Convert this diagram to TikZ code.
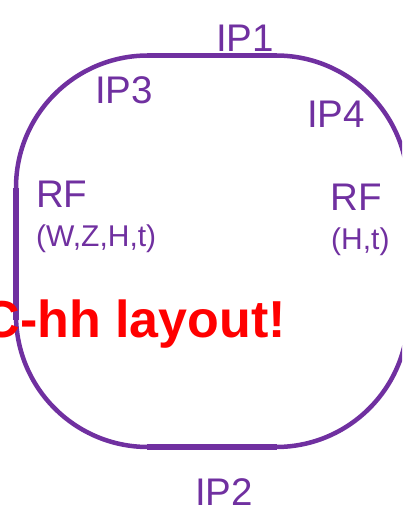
\documentclass[tikz,border=0pt]{standalone}
\usepackage{fontspec}
\setmainfont{Liberation Sans}
\definecolor{ppurple}{HTML}{7030A0}
\definecolor{pred}{HTML}{FF0000}
\tikzset{
  lbl/.style={text=ppurple, inner sep=0pt, font=\fontsize{38.5}{40}\selectfont},
  sublbl/.style={text=ppurple, inner sep=0pt, font=\fontsize{30}{32}\selectfont},
  loopline/.style={draw=ppurple, line width=4.5pt},
  straight/.style={draw=ppurple, line width=5.5pt}
}
\begin{document}
\begin{tikzpicture}[x=1pt,y=-1pt]
\useasboundingbox (0,0) rectangle (402,508);
\clip (0,0) rectangle (402,508);
\draw[loopline, rounded corners=132pt] (16,55.5) rectangle (408,447);
\coordinate (t1) at (147,55.5); \coordinate (t2) at (277,55.5);
\coordinate (b1) at (147,447); \coordinate (b2) at (277,447);
\coordinate (l1) at (16,188); \coordinate (l2) at (16,320);
\draw[straight] (t1) -- (t2);
\draw[straight] (b1) -- (b2);
\draw[straight] (l1) -- (l2);
\node[lbl, anchor=base west] (ip1) at (216,52) {IP1};
\node[lbl, anchor=base west] (ip3) at (95,104) {IP3};
\node[lbl, anchor=base west] (ip4) at (307,127) {IP4};
\node[lbl, anchor=base west, text depth=0pt] (ip2) at (195,505) {IP2};
\node[lbl, anchor=base west] (rfl) at (36,207) {RF};
\node[sublbl, anchor=base west] (rfls) at (36,246) {(W,Z,H,t)};
\node[lbl, anchor=base west] (rfr) at (330,210) {RF};
\node[sublbl, anchor=base west] (rfrs) at (331,249) {(H,t)};
\node[text=pred, inner sep=0pt, anchor=base east, font=\fontsize{52}{54}\selectfont\bfseries] (msg) at (286,337) {C-hh layout!};
\end{tikzpicture}
\end{document}
